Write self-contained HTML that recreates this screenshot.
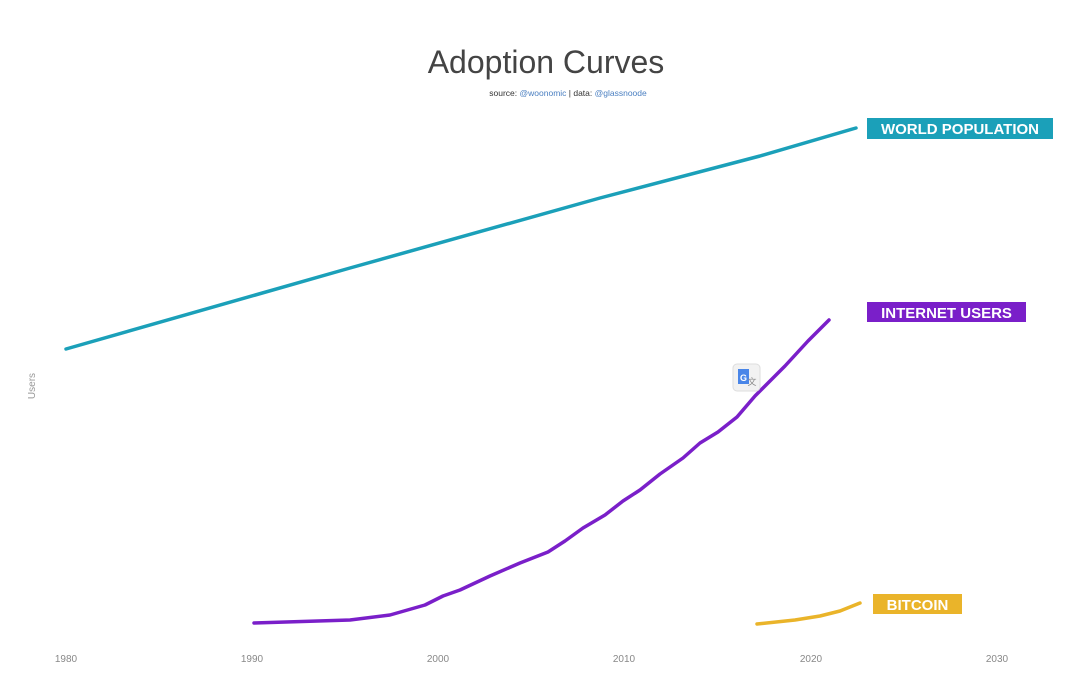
<!DOCTYPE html>
<html><head><meta charset="utf-8"><style>
html,body{margin:0;padding:0;background:#fff;width:1080px;height:698px;overflow:hidden}
svg{display:block}
</style></head><body>
<svg width="1080" height="698" xmlns="http://www.w3.org/2000/svg" font-family="Liberation Sans, sans-serif">
<text x="546" y="73" text-anchor="middle" font-size="32" fill="#444" font-weight="300">Adoption Curves</text>
<text x="568" y="96" text-anchor="middle" font-size="8.5" fill="#333">source: <tspan fill="#4a7fc1">@woonomic</tspan> | data: <tspan fill="#4a7fc1">@glassnoode</tspan></text>
<text x="35" y="386" font-size="10" fill="#999" text-anchor="middle" transform="rotate(-90 35 386)">Users</text>
<g font-size="10" fill="#888" text-anchor="middle">
<text x="66" y="662">1980</text><text x="252" y="662">1990</text><text x="438" y="662">2000</text><text x="624" y="662">2010</text><text x="811" y="662">2020</text><text x="997" y="662">2030</text>
</g>
<g fill="none" stroke-width="3.5" stroke-linejoin="round" stroke-linecap="round">
<polyline stroke="#1ba0b9" points="66,349 350,268 600,198 760,156 856,128"/>
<polyline stroke="#7a1fc9" points="254,623 350,620 390,615 425,605 443,596 460,590 490,576 520,563 548,552 565,541 583,528 605,515 623,501 640,490 660,474 683,458 700,443 718,432 737,417 755,396 785,366 808,341 829,320"/>
<polyline stroke="#eab42a" points="757,624 795,620 820,616 840,611 860,603"/>
</g>
<rect x="867" y="118" width="186" height="21" fill="#1ba0b9"/>
<text x="960" y="134" text-anchor="middle" font-size="15" font-weight="bold" fill="#fff">WORLD POPULATION</text>
<rect x="867" y="302" width="159" height="20" fill="#7a1fc9"/>
<text x="946.5" y="318" text-anchor="middle" font-size="15" font-weight="bold" fill="#fff">INTERNET USERS</text>
<rect x="873" y="594" width="89" height="20" fill="#eab42a"/>
<text x="917.5" y="610" text-anchor="middle" font-size="15" font-weight="bold" fill="#fff">BITCOIN</text>
<rect x="733" y="364" width="27" height="27" rx="4" fill="#f2f2f2" stroke="#ddd"/>
<rect x="738" y="369" width="11" height="15" fill="#4a86e8"/>
<text x="743.5" y="381" text-anchor="middle" font-size="9" font-weight="bold" fill="#fff">G</text>
<text x="752" y="385" text-anchor="middle" font-size="9" fill="#888">文</text>
</svg>
</body></html>
